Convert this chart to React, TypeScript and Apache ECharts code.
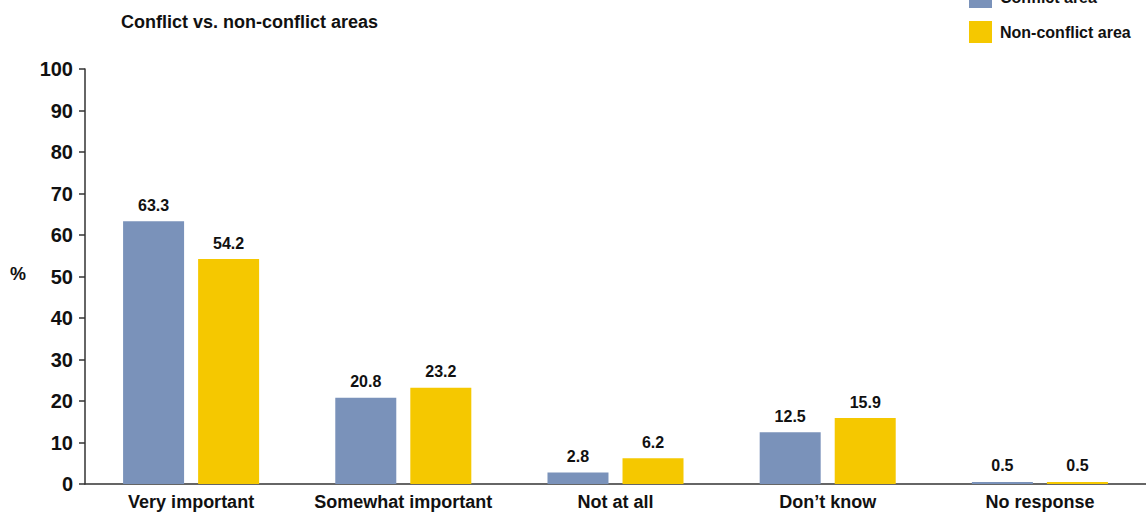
import React, { useEffect, useRef } from "react";
import * as echarts from "echarts";

const categories = ["Very important", "Somewhat important", "Not at all", "Don\u2019t know", "No response"];
const conflictValues = [63.3, 20.8, 2.8, 12.5, 0.5];
const nonConflictValues = [54.2, 23.2, 6.2, 15.9, 0.5];
const seriesNames = ["Conflict area", "Non-conflict area"];

const FONT = "'Liberation Sans', Arial, sans-serif";

export default function App() {
  const ref = useRef<HTMLDivElement>(null);
  useEffect(() => {
    if (!ref.current) return;
    const chart = echarts.init(ref.current, undefined, { renderer: "svg" });
    const label = {
      show: true,
      position: "top",
      distance: 8,
      color: "#111",
      fontFamily: FONT,
      fontWeight: "bold",
      fontSize: 16,
      formatter: (p: any) => p.value.toFixed(1),
    };
    chart.setOption({
      animation: false,
      textStyle: { fontFamily: FONT },
      title: {
        text: "Conflict vs. non-conflict areas",
        left: 116,
        top: 8,
        textStyle: { fontFamily: FONT, fontWeight: "bold", fontSize: 18, color: "#111" },
      },
      legend: {
        orient: "vertical",
        left: 964,
        top: -19,
        itemWidth: 23,
        itemHeight: 22,
        itemGap: 13,
        icon: "rect",
        textStyle: { fontFamily: FONT, fontWeight: "bold", fontSize: 16, color: "#111", padding: [0, 0, 0, 3] },
        data: seriesNames,
      },
      graphic: [
        {
          type: "text",
          left: 10,
          top: 265,
          style: { text: "%", fontFamily: FONT, fontWeight: "bold", fontSize: 18, fill: "#111" },
        },
      ],
      grid: { left: 85, right: 0, top: 69, bottom: 34, containLabel: false },
      xAxis: {
        type: "category",
        data: categories,
        axisLine: { lineStyle: { color: "#333", width: 1.5 } },
        axisTick: { show: false },
        axisLabel: { interval: 0, fontFamily: FONT, fontWeight: "bold", fontSize: 18, color: "#111", margin: 9 },
      },
      yAxis: {
        type: "value",
        min: 0,
        max: 100,
        interval: 10,
        axisLine: { show: true, lineStyle: { color: "#333", width: 1.5 } },
        axisTick: { show: true, length: 6, lineStyle: { color: "#333", width: 1.5 } },
        splitLine: { show: false },
        axisLabel: { fontFamily: FONT, fontWeight: "bold", fontSize: 20, color: "#111", margin: 12 },
      },
      series: [
        {
          name: seriesNames[0],
          type: "bar",
          data: conflictValues,
          barWidth: 61,
          barGap: "23%",
          itemStyle: { color: "#7A92BA" },
          label,
        },
        {
          name: seriesNames[1],
          type: "bar",
          data: nonConflictValues,
          barWidth: 61,
          itemStyle: { color: "#F5C800" },
          label,
        },
      ],
    });
    return () => chart.dispose();
  }, []);
  return <div ref={ref} style={{ width: 1146, height: 518, position: "absolute", left: 0, top: 0, background: "#fff" }} />;
}
